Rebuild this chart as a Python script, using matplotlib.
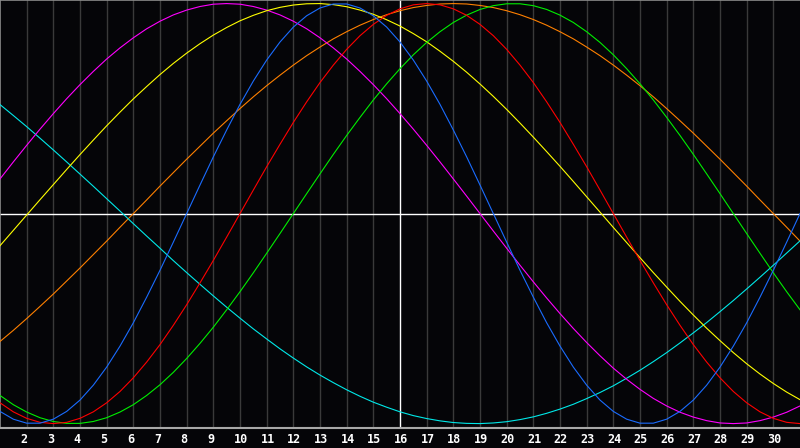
import numpy as np
import matplotlib.pyplot as plt

# un point par demi-journée, du jour 1 au jour 31
days = np.arange(1, 31.01, 0.5)
tick_days = list(range(2, 31))
today = 16

# valeurs
blue = [-0.942, -0.979, -0.998, -0.998, -0.979, -0.942, -0.888, -0.817, -0.731, -0.631,
        -0.520, -0.398, -0.270, -0.136, 0.0, 0.136, 0.270, 0.398, 0.520, 0.631,
        0.731, 0.817, 0.888, 0.942, 0.979, 0.998, 0.998, 0.979, 0.942, 0.888,
        0.817, 0.731, 0.631, 0.520, 0.398, 0.270, 0.136, 0.0, -0.136, -0.270,
        -0.398, -0.520, -0.631, -0.731, -0.817, -0.888, -0.942, -0.979, -0.998, -0.998,
        -0.979, -0.942, -0.888, -0.817, -0.731, -0.631, -0.520, -0.398, -0.270, -0.136,
        0.0]
red = [-0.901, -0.944, -0.975, -0.994, -1.0, -0.994, -0.975, -0.944, -0.901, -0.847,
       -0.782, -0.707, -0.624, -0.532, -0.434, -0.330, -0.223, -0.112, 0.0, 0.112,
       0.223, 0.330, 0.434, 0.532, 0.624, 0.707, 0.782, 0.847, 0.901, 0.944,
       0.975, 0.994, 1.0, 0.994, 0.975, 0.944, 0.901, 0.847, 0.782, 0.707,
       0.624, 0.532, 0.434, 0.330, 0.223, 0.112, 0.0, -0.112, -0.223, -0.330,
       -0.434, -0.532, -0.624, -0.707, -0.782, -0.847, -0.901, -0.944, -0.975, -0.994,
       -1.0]
green = [-0.866, -0.910, -0.945, -0.972, -0.990, -0.999, -0.999, -0.990, -0.972, -0.945,
         -0.910, -0.866, -0.815, -0.756, -0.690, -0.618, -0.541, -0.458, -0.372, -0.282,
         -0.189, -0.095, 0.0, 0.095, 0.189, 0.282, 0.372, 0.458, 0.541, 0.618,
         0.690, 0.756, 0.815, 0.866, 0.910, 0.945, 0.972, 0.990, 0.999, 0.999,
         0.990, 0.972, 0.945, 0.910, 0.866, 0.815, 0.756, 0.690, 0.618, 0.541,
         0.458, 0.372, 0.282, 0.189, 0.095, 0.0, -0.095, -0.189, -0.282, -0.372,
         -0.458]
cyan = [0.519, 0.467, 0.414, 0.359, 0.303, 0.246, 0.188, 0.130, 0.071, 0.012,
        -0.048, -0.107, -0.165, -0.224, -0.281, -0.337, -0.392, -0.446, -0.498, -0.549,
        -0.597, -0.644, -0.688, -0.730, -0.769, -0.805, -0.839, -0.870, -0.898, -0.922,
        -0.944, -0.962, -0.976, -0.987, -0.995, -0.999, -1.0, -0.997, -0.991, -0.981,
        -0.968, -0.951, -0.931, -0.908, -0.881, -0.852, -0.820, -0.784, -0.746, -0.705,
        -0.662, -0.616, -0.568, -0.519, -0.467, -0.414, -0.359, -0.303, -0.246, -0.188,
        -0.130]
magenta = [0.165, 0.246, 0.325, 0.402, 0.476, 0.547, 0.614, 0.677, 0.736, 0.789,
           0.837, 0.880, 0.916, 0.946, 0.969, 0.986, 0.997, 1.0, 0.997, 0.986,
           0.969, 0.946, 0.916, 0.880, 0.837, 0.789, 0.736, 0.677, 0.614, 0.547,
           0.476, 0.402, 0.325, 0.246, 0.165, 0.083, 0.0, -0.083, -0.165, -0.246,
           -0.325, -0.402, -0.476, -0.547, -0.614, -0.677, -0.736, -0.789, -0.837, -0.880,
           -0.916, -0.946, -0.969, -0.986, -0.997, -1.0, -0.997, -0.986, -0.969, -0.946,
           -0.916]
yellow = [-0.153, -0.080, -0.007, 0.066, 0.138, 0.210, 0.281, 0.350, 0.418, 0.483,
          0.546, 0.605, 0.662, 0.715, 0.764, 0.809, 0.850, 0.886, 0.918, 0.944,
          0.966, 0.982, 0.993, 0.999, 1.0, 0.995, 0.985, 0.969, 0.949, 0.923,
          0.893, 0.857, 0.818, 0.773, 0.725, 0.673, 0.617, 0.558, 0.496, 0.431,
          0.364, 0.295, 0.225, 0.153, 0.080, 0.007, -0.066, -0.138, -0.210, -0.281,
          -0.350, -0.418, -0.483, -0.546, -0.605, -0.662, -0.715, -0.764, -0.809, -0.850,
          -0.886]
orange = [-0.609, -0.556, -0.5, -0.442, -0.383, -0.321, -0.259, -0.195, -0.131, -0.065,
          0.0, 0.065, 0.131, 0.195, 0.259, 0.321, 0.383, 0.442, 0.5, 0.556,
          0.609, 0.659, 0.707, 0.752, 0.793, 0.832, 0.866, 0.897, 0.924, 0.947,
          0.966, 0.981, 0.991, 0.998, 1.0, 0.998, 0.991, 0.981, 0.966, 0.947,
          0.924, 0.897, 0.866, 0.832, 0.793, 0.752, 0.707, 0.659, 0.609, 0.556,
          0.5, 0.442, 0.383, 0.321, 0.259, 0.195, 0.131, 0.065, 0.0, -0.065,
          -0.131]

bg = '#050508'
fig = plt.figure(figsize=(8, 4.48), dpi=100, facecolor=bg)
ax = fig.add_axes([0, 1 - 428 / 448, 1, 428 / 448], facecolor=bg)

# grille verticale, un trait par jour
for d in tick_days:
    if d == today:
        continue
    ax.axvline(d, color='#3a3a3a', lw=1, zorder=1)
ax.axvline(today, color='white', lw=1, zorder=2)
ax.axhline(0, color='white', lw=1, zorder=2)

series = [(orange, '#ff8000'), (cyan, '#00e8e8'), (magenta, '#ff00ff'),
          (yellow, '#ffff00'), (green, '#00ee00'), (red, '#ff0000'), (blue, '#1a6cff')]
for vals, col in series:
    ax.plot(days, vals, color=col, lw=0.8, zorder=3)

ax.set_xlim(1, 31)
ax.set_ylim(-1.021, 1.017)
ax.set_xticks([])
ax.set_yticks([])
for side in ['left', 'top']:
    ax.spines[side].set_color('#8c8c8c')
    ax.spines[side].set_linewidth(1.2)
ax.spines['bottom'].set_color('#a8a8a8')
ax.spines['bottom'].set_linewidth(1.5)
ax.spines['right'].set_visible(False)

for d in tick_days:
    ax.text(d - 0.23, -0.026, str(d), transform=ax.get_xaxis_transform(),
            ha='left', va='center', color='white', fontsize=8.5,
            fontweight='bold', family='DejaVu Sans Mono', clip_on=False)

fig.savefig('out.png', dpi=100, facecolor=bg)
